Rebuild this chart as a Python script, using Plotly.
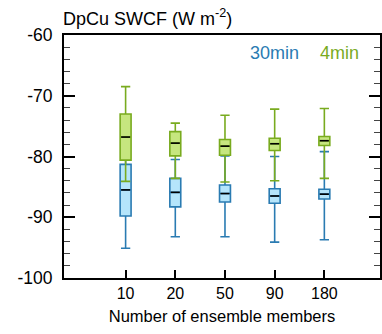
import plotly.graph_objects as go

categories = ["10", "20", "50", "90", "180"]
y_ticks = [-100, -90, -80, -70, -60]
y_tick_text = ["-100", "-90", "-80", "-70", "-60"]

# 30min (blue)
b_low = [-95.1, -93.2, -93.2, -94.1, -93.7]
b_q1 = [-89.8, -88.3, -87.5, -87.7, -87.0]
b_med = [-85.5, -85.9, -86.1, -86.5, -86.2]
b_q3 = [-81.3, -83.6, -84.7, -85.3, -85.4]
b_up = [-79.0, -80.5, -79.9, -80.0, -79.2]

# 4min (green)
g_low = [-84.1, -83.6, -84.2, -84.0, -83.6]
g_q1 = [-80.6, -79.9, -79.8, -79.0, -78.2]
g_med = [-76.8, -77.8, -78.3, -77.9, -77.4]
g_q3 = [-73.0, -75.9, -77.2, -77.0, -76.7]
g_up = [-68.5, -74.5, -73.2, -72.2, -72.1]

pos = list(range(1, len(categories) + 1))
BW = 0.22
FONT = "Liberation Sans, Arial, sans-serif"

fig = go.Figure()

def add_box(low, q1, med, q3, up, fill, line):
    fig.add_trace(go.Box(
        x=pos, q1=q1, median=med, q3=q3, lowerfence=low, upperfence=up,
        width=BW, whiskerwidth=0.85, fillcolor=fill,
        line=dict(color=line, width=1.6), boxpoints=False, showlegend=False,
        hoverinfo="skip"))
    mx, my = [], []
    for p, m in zip(pos, med):
        mx += [p - BW / 2 + 0.02, p + BW / 2 - 0.02, None]
        my += [m, m, None]
    fig.add_trace(go.Scatter(x=mx, y=my, mode="lines",
                             line=dict(color="black", width=1.6),
                             showlegend=False, hoverinfo="skip"))

add_box(b_low, b_q1, b_med, b_q3, b_up, "#b5e5fb", "#2a7bb2")
add_box(g_low, g_q1, g_med, g_q3, g_up, "#c6e67f", "#79ab1f")

fig.update_layout(
    width=382, height=334,
    margin=dict(l=64, r=0, t=35, b=56),
    plot_bgcolor="white", paper_bgcolor="white",
    boxmode="overlay",
    font=dict(family=FONT, color="black"),
    showlegend=False,
)

fig.update_xaxes(
    range=[-0.24, 6.12], tickmode="array", tickvals=pos, ticktext=categories,
    ticks="inside", ticklen=8, tickwidth=1.5, tickcolor="black",
    showline=True, linecolor="black", linewidth=2, mirror=True,
    showgrid=False, zeroline=False,
    tickfont=dict(size=16),
    title=dict(text="Number of ensemble members", font=dict(size=16.5), standoff=9),
)
fig.update_yaxes(
    range=[-100, -60], tickmode="array", tickvals=y_ticks, ticktext=y_tick_text,
    ticks="inside", ticklen=11, tickwidth=1.5, tickcolor="black",
    minor=dict(dtick=2, tick0=-100, ticks="inside", ticklen=6, tickwidth=1.2, tickcolor="#444"),
    showline=True, linecolor="black", linewidth=2, mirror="ticks",
    showgrid=False, zeroline=False,
    tickfont=dict(size=17.5), ticklabelstandoff=6,
)

fig.add_annotation(text="DpCu SWCF (W m<sup>-2</sup>)", xref="paper", yref="paper",
                   x=0, y=1, xanchor="left", yanchor="bottom", yshift=4, xshift=-3,
                   showarrow=False, font=dict(size=18, color="black"))
fig.add_annotation(text="30min", xref="paper", yref="paper",
                   x=(276 - 64) / 318, y=(278 - 53) / 243, xanchor="center", yanchor="middle",
                   showarrow=False, font=dict(size=18, color="#2a7bb2"))
fig.add_annotation(text="4min", xref="paper", yref="paper",
                   x=(341 - 64) / 318, y=(278 - 53) / 243, xanchor="center", yanchor="middle",
                   showarrow=False, font=dict(size=18, color="#79ab1f"))

fig.write_html("out.html")
